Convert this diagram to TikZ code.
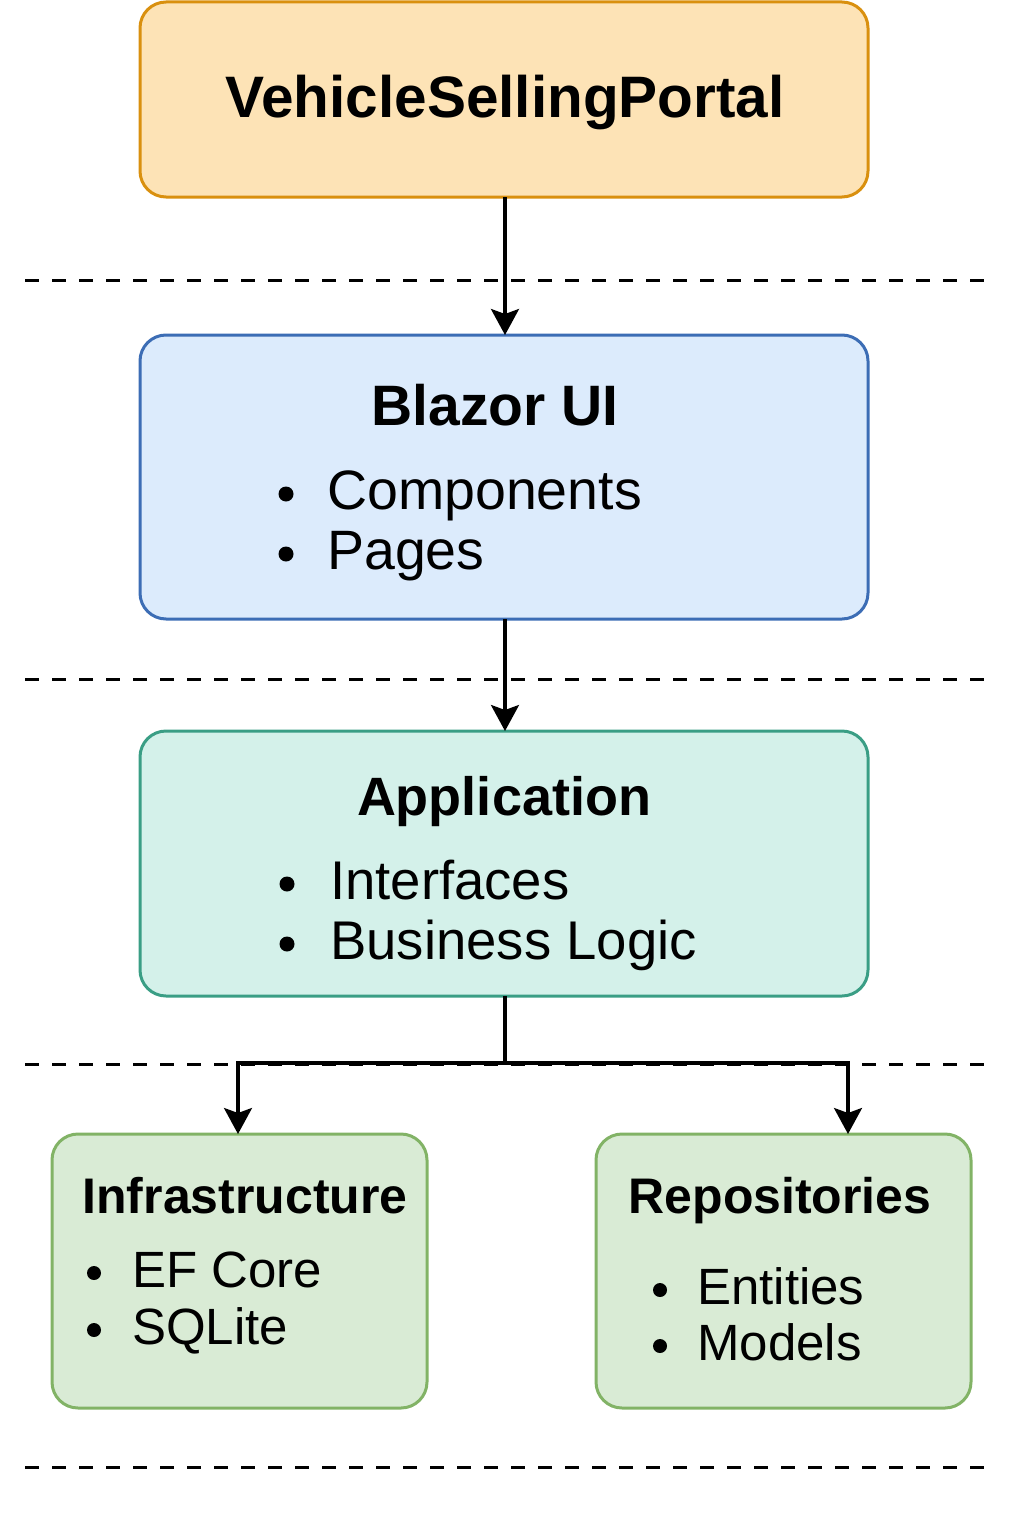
\documentclass[tikz,border=0pt]{standalone}
\usepackage{fontspec}
\setmainfont{Liberation Sans}
\usetikzlibrary{arrows.meta}
\definecolor{orFill}{HTML}{FDE3B6}
\definecolor{orLine}{HTML}{D9900F}
\definecolor{blFill}{HTML}{DCEBFC}
\definecolor{blLine}{HTML}{3C6DB5}
\definecolor{tlFill}{HTML}{D4F1EA}
\definecolor{tlLine}{HTML}{3A9E85}
\definecolor{grFill}{HTML}{D9EBD5}
\definecolor{grLine}{HTML}{82B366}
\tikzset{
  box/.style={rounded corners=26pt, line width=3pt},
  sep/.style={line width=3pt, dash pattern=on 14pt off 13pt},
  conn/.style={line width=3.2pt, -{Stealth[length=26pt,width=28pt,inset=5pt]}},
  plain/.style={line width=3.2pt},
  txt/.style={anchor=base west, inner sep=0pt},
  ttl/.style={anchor=base, inner sep=0pt, font=\bfseries},
  dot/.style={fill=black, draw=none},
}
\begin{document}
\begin{tikzpicture}[x=1pt,y=-1pt]
\useasboundingbox (0,0) rectangle (1024,1536);
% separators
\draw[sep] (25,280) -- (985,280);
\draw[sep] (25,679) -- (985,679);
\draw[sep] (25,1064) -- (985,1064);
\draw[sep] (25,1467) -- (985,1467);
% boxes
\draw[box, fill=orFill, draw=orLine] (140,2) rectangle (868,197);
\coordinate (topS) at (505,197);
\draw[box, fill=blFill, draw=blLine] (140,335) rectangle (868,619);
\coordinate (blN) at (505,335);
\coordinate (blS) at (505,619);
\draw[box, fill=tlFill, draw=tlLine] (140,731) rectangle (868,996);
\coordinate (apN) at (505,731);
\coordinate (apS) at (505,996);
\draw[box, fill=grFill, draw=grLine] (52,1134) rectangle (427,1408);
\coordinate (infN) at (238,1134);
\draw[box, fill=grFill, draw=grLine] (596,1134) rectangle (971,1408);
\coordinate (repN) at (848,1134);
\coordinate (split) at (505,1063);
% titles
\node[ttl, font=\bfseries\fontsize{58.5}{60}\selectfont] (t0) at (505,118) {VehicleSellingPortal};
\node[ttl, font=\bfseries\fontsize{57}{60}\selectfont] (t1) at (495,425) {Blazor UI};
\node[ttl, font=\bfseries\fontsize{54}{60}\selectfont] (t2) at (504,815) {Application};
\node[ttl, font=\bfseries\fontsize{50}{60}\selectfont] (t3) at (245,1213) {Infrastructure};
\node[ttl, font=\bfseries\fontsize{50}{60}\selectfont] (t4) at (780,1213) {Repositories};
% bullets
\fill[dot] (286,494) circle (7.5);
\fill[dot] (286,554) circle (7.5);
\node[txt, font=\fontsize{55.5}{60}\selectfont] (b1) at (327,509) {Components};
\node[txt, font=\fontsize{55.5}{60}\selectfont] (b2) at (327,569) {Pages};
\fill[dot] (287,884) circle (7.5);
\fill[dot] (287,944) circle (7.5);
\node[txt, font=\fontsize{54.5}{60}\selectfont] (b3) at (330,899) {Interfaces};
\node[txt, font=\fontsize{54.5}{60}\selectfont] (b4) at (330,959) {Business Logic};
\fill[dot] (94,1273) circle (7);
\fill[dot] (94,1330) circle (7);
\node[txt, font=\fontsize{51}{60}\selectfont] (b5) at (132,1287) {EF Core};
\node[txt, font=\fontsize{51}{60}\selectfont] (b6) at (132,1344) {SQLite};
\fill[dot] (660,1290) circle (7);
\fill[dot] (660,1346) circle (7);
\node[txt, font=\fontsize{51}{60}\selectfont] (b7) at (697,1304) {Entities};
\node[txt, font=\fontsize{51}{60}\selectfont] (b8) at (697,1360) {Models};
% connectors
\draw[conn] (topS) -- (blN);
\draw[conn] (blS) -- (apN);
\draw[plain] (apS) -- (split);
\draw[conn] (split) -| (infN);
\draw[conn] (split) -| (repN);
\end{tikzpicture}
\end{document}
